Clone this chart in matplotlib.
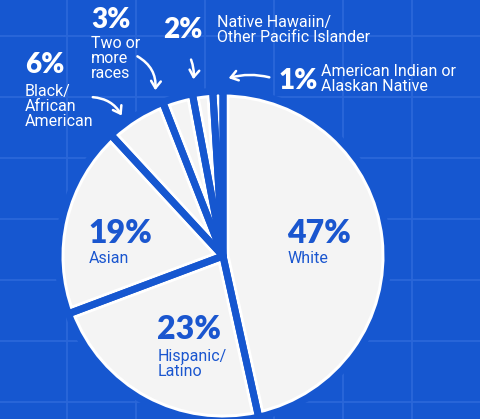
import matplotlib
matplotlib.use('Agg')
import matplotlib.pyplot as plt
from matplotlib.patches import FancyArrowPatch

W, H = 480, 419

# share of students by race / ethnicity, clockwise from 12 o'clock
groups = ['White', 'Hispanic/\nLatino', 'Asian', 'Black/\nAfrican\nAmerican',
          'Two or\nmore\nraces', 'Native Hawaiin/\nOther Pacific Islander',
          'American Indian or\nAlaskan Native']
shares = [47, 23, 19, 6, 3, 2, 1]
pct_labels = [f'{v}%' for v in shares]

bg = '#1657d0'
grid_col = '#2b67d9'
slice_col = '#f4f4f4'
ink = '#1a56cf'
px = 0.72  # points per pixel at 100 dpi

fig = plt.figure(figsize=(W / 100, H / 100), dpi=100)
fig.patch.set_facecolor(bg)
ax = fig.add_axes([0, 0, 1, 1])
ax.set_facecolor(bg)

# blueprint grid
for gx in [67, 136, 205, 274, 343, 412]:
    ax.axvline(gx, color=grid_col, lw=1.3, zorder=0)
for gy in [36, 97, 158, 219, 280, 341, 402]:
    ax.axhline(H - gy, color=grid_col, lw=1.3, zorder=0)

centre = (223, H - 256)
rad = 165
explode = [0, 0, 0, 0.03, 0.03, 0.035, 0.065]
pie_kw = dict(radius=rad, center=centre, startangle=90, counterclock=False,
              explode=explode, frame=True)

# slices with a white rim kept inside each slice, then
# background-coloured strokes cut the gaps between them
fill, _ = ax.pie(shares, colors=[slice_col] * len(shares),
                 wedgeprops=dict(edgecolor='white', linewidth=13 * px, joinstyle='round'),
                 **pie_kw)
for w in fill:
    w.set_clip_on(True)  # pie turns clipping off for its wedges
    w.set_clip_path(w)
cuts, _ = ax.pie(shares, colors=['none'] * len(shares),
                 wedgeprops=dict(edgecolor=bg, linewidth=7 * px, joinstyle='round'),
                 **pie_kw)

ax.set_xlim(0, W)
ax.set_ylim(0, H)
ax.set_aspect('auto')
ax.axis('off')

pct_font = dict(family=['Lato', 'DejaVu Sans'], fontweight='heavy')
lab_font = dict(family=['Roboto', 'DejaVu Sans'], fontsize=11.5, linespacing=1.02)

# labels inside the big slices: (x, pct baseline, baseline of last label line)
inside = {0: (287, 243, 263), 2: (88, 243, 263), 1: (157, 339, 376)}
for i, (x, y, ly) in inside.items():
    ax.text(x, H - y, pct_labels[i], color=ink, fontsize=23, ha='left', va='baseline', **pct_font)
    ax.text(x + 1, H - ly, groups[i], color=ink, ha='left', va='baseline', **lab_font)

# callouts for the thin slices: (pct x, pct baseline, label x, last label baseline)
outside = {3: (25, 73, 25, 126), 4: (91, 28, 91, 78),
           5: (163, 38, 217, 42), 6: (279, 89, 321, 91)}
for i, (x, y, lx, ly) in outside.items():
    ax.text(x, H - y, pct_labels[i], color='white', fontsize=20, ha='left', va='baseline', **pct_font)
    ax.text(lx, H - ly, groups[i], color='white', ha='left', va='baseline', **lab_font)

arrows = [((90, 97), (123, 118), -0.3), ((135, 55), (155, 93), -0.35),
          ((190, 57), (193, 82), -0.15), ((272, 78), (226, 79), 0.15)]
for (x0, y0), (x1, y1), r in arrows:
    ax.add_patch(FancyArrowPatch((x0, H - y0), (x1, H - y1),
                                 connectionstyle=f'arc3,rad={r}',
                                 arrowstyle='->,head_length=5,head_width=3.5',
                                 color='white', lw=1.8, zorder=5))

fig.savefig('out.png', dpi=100, facecolor=bg)
